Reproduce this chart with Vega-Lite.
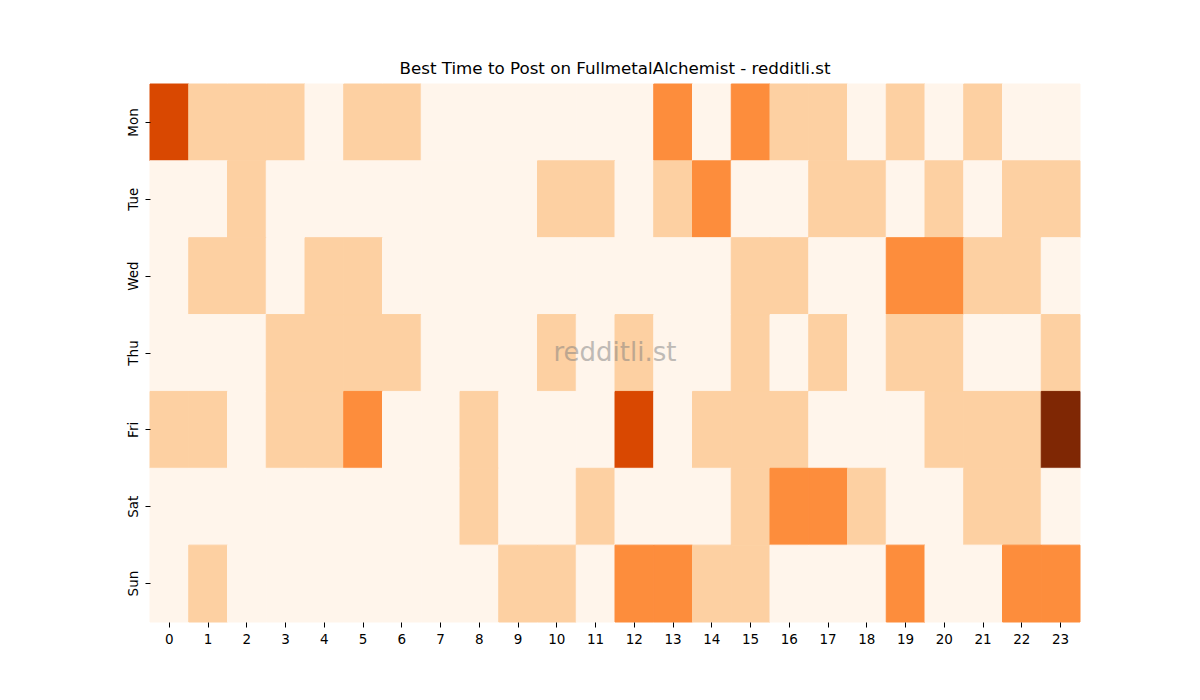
{
  "$schema": "https://vega.github.io/schema/vega-lite/v6.json",
  "width": 930,
  "height": 538,
  "autosize": {"type": "none"},
  "padding": {"left": 150, "top": 84, "right": 120, "bottom": 78},
  "background": "white",
  "config": {"view": {"stroke": null}, "font": "DejaVu Sans"},
  "title": {"text": "Best Time to Post on FullmetalAlchemist - redditli.st", "fontSize": 16.7, "fontWeight": "normal", "font": "DejaVu Sans", "color": "black", "offset": 6},
  "datasets": {
    "grid": [
      {"day":"Mon","hour":0,"v":3},{"day":"Mon","hour":1,"v":1},{"day":"Mon","hour":2,"v":1},{"day":"Mon","hour":3,"v":1},{"day":"Mon","hour":4,"v":0},{"day":"Mon","hour":5,"v":1},{"day":"Mon","hour":6,"v":1},{"day":"Mon","hour":7,"v":0},{"day":"Mon","hour":8,"v":0},{"day":"Mon","hour":9,"v":0},{"day":"Mon","hour":10,"v":0},{"day":"Mon","hour":11,"v":0},{"day":"Mon","hour":12,"v":0},{"day":"Mon","hour":13,"v":2},{"day":"Mon","hour":14,"v":0},{"day":"Mon","hour":15,"v":2},{"day":"Mon","hour":16,"v":1},{"day":"Mon","hour":17,"v":1},{"day":"Mon","hour":18,"v":0},{"day":"Mon","hour":19,"v":1},{"day":"Mon","hour":20,"v":0},{"day":"Mon","hour":21,"v":1},{"day":"Mon","hour":22,"v":0},{"day":"Mon","hour":23,"v":0},
      {"day":"Tue","hour":0,"v":0},{"day":"Tue","hour":1,"v":0},{"day":"Tue","hour":2,"v":1},{"day":"Tue","hour":3,"v":0},{"day":"Tue","hour":4,"v":0},{"day":"Tue","hour":5,"v":0},{"day":"Tue","hour":6,"v":0},{"day":"Tue","hour":7,"v":0},{"day":"Tue","hour":8,"v":0},{"day":"Tue","hour":9,"v":0},{"day":"Tue","hour":10,"v":1},{"day":"Tue","hour":11,"v":1},{"day":"Tue","hour":12,"v":0},{"day":"Tue","hour":13,"v":1},{"day":"Tue","hour":14,"v":2},{"day":"Tue","hour":15,"v":0},{"day":"Tue","hour":16,"v":0},{"day":"Tue","hour":17,"v":1},{"day":"Tue","hour":18,"v":1},{"day":"Tue","hour":19,"v":0},{"day":"Tue","hour":20,"v":1},{"day":"Tue","hour":21,"v":0},{"day":"Tue","hour":22,"v":1},{"day":"Tue","hour":23,"v":1},
      {"day":"Wed","hour":0,"v":0},{"day":"Wed","hour":1,"v":1},{"day":"Wed","hour":2,"v":1},{"day":"Wed","hour":3,"v":0},{"day":"Wed","hour":4,"v":1},{"day":"Wed","hour":5,"v":1},{"day":"Wed","hour":6,"v":0},{"day":"Wed","hour":7,"v":0},{"day":"Wed","hour":8,"v":0},{"day":"Wed","hour":9,"v":0},{"day":"Wed","hour":10,"v":0},{"day":"Wed","hour":11,"v":0},{"day":"Wed","hour":12,"v":0},{"day":"Wed","hour":13,"v":0},{"day":"Wed","hour":14,"v":0},{"day":"Wed","hour":15,"v":1},{"day":"Wed","hour":16,"v":1},{"day":"Wed","hour":17,"v":0},{"day":"Wed","hour":18,"v":0},{"day":"Wed","hour":19,"v":2},{"day":"Wed","hour":20,"v":2},{"day":"Wed","hour":21,"v":1},{"day":"Wed","hour":22,"v":1},{"day":"Wed","hour":23,"v":0},
      {"day":"Thu","hour":0,"v":0},{"day":"Thu","hour":1,"v":0},{"day":"Thu","hour":2,"v":0},{"day":"Thu","hour":3,"v":1},{"day":"Thu","hour":4,"v":1},{"day":"Thu","hour":5,"v":1},{"day":"Thu","hour":6,"v":1},{"day":"Thu","hour":7,"v":0},{"day":"Thu","hour":8,"v":0},{"day":"Thu","hour":9,"v":0},{"day":"Thu","hour":10,"v":1},{"day":"Thu","hour":11,"v":0},{"day":"Thu","hour":12,"v":1},{"day":"Thu","hour":13,"v":0},{"day":"Thu","hour":14,"v":0},{"day":"Thu","hour":15,"v":1},{"day":"Thu","hour":16,"v":0},{"day":"Thu","hour":17,"v":1},{"day":"Thu","hour":18,"v":0},{"day":"Thu","hour":19,"v":1},{"day":"Thu","hour":20,"v":1},{"day":"Thu","hour":21,"v":0},{"day":"Thu","hour":22,"v":0},{"day":"Thu","hour":23,"v":1},
      {"day":"Fri","hour":0,"v":1},{"day":"Fri","hour":1,"v":1},{"day":"Fri","hour":2,"v":0},{"day":"Fri","hour":3,"v":1},{"day":"Fri","hour":4,"v":1},{"day":"Fri","hour":5,"v":2},{"day":"Fri","hour":6,"v":0},{"day":"Fri","hour":7,"v":0},{"day":"Fri","hour":8,"v":1},{"day":"Fri","hour":9,"v":0},{"day":"Fri","hour":10,"v":0},{"day":"Fri","hour":11,"v":0},{"day":"Fri","hour":12,"v":3},{"day":"Fri","hour":13,"v":0},{"day":"Fri","hour":14,"v":1},{"day":"Fri","hour":15,"v":1},{"day":"Fri","hour":16,"v":1},{"day":"Fri","hour":17,"v":0},{"day":"Fri","hour":18,"v":0},{"day":"Fri","hour":19,"v":0},{"day":"Fri","hour":20,"v":1},{"day":"Fri","hour":21,"v":1},{"day":"Fri","hour":22,"v":1},{"day":"Fri","hour":23,"v":4},
      {"day":"Sat","hour":0,"v":0},{"day":"Sat","hour":1,"v":0},{"day":"Sat","hour":2,"v":0},{"day":"Sat","hour":3,"v":0},{"day":"Sat","hour":4,"v":0},{"day":"Sat","hour":5,"v":0},{"day":"Sat","hour":6,"v":0},{"day":"Sat","hour":7,"v":0},{"day":"Sat","hour":8,"v":1},{"day":"Sat","hour":9,"v":0},{"day":"Sat","hour":10,"v":0},{"day":"Sat","hour":11,"v":1},{"day":"Sat","hour":12,"v":0},{"day":"Sat","hour":13,"v":0},{"day":"Sat","hour":14,"v":0},{"day":"Sat","hour":15,"v":1},{"day":"Sat","hour":16,"v":2},{"day":"Sat","hour":17,"v":2},{"day":"Sat","hour":18,"v":1},{"day":"Sat","hour":19,"v":0},{"day":"Sat","hour":20,"v":0},{"day":"Sat","hour":21,"v":1},{"day":"Sat","hour":22,"v":1},{"day":"Sat","hour":23,"v":0},
      {"day":"Sun","hour":0,"v":0},{"day":"Sun","hour":1,"v":1},{"day":"Sun","hour":2,"v":0},{"day":"Sun","hour":3,"v":0},{"day":"Sun","hour":4,"v":0},{"day":"Sun","hour":5,"v":0},{"day":"Sun","hour":6,"v":0},{"day":"Sun","hour":7,"v":0},{"day":"Sun","hour":8,"v":0},{"day":"Sun","hour":9,"v":1},{"day":"Sun","hour":10,"v":1},{"day":"Sun","hour":11,"v":0},{"day":"Sun","hour":12,"v":2},{"day":"Sun","hour":13,"v":2},{"day":"Sun","hour":14,"v":1},{"day":"Sun","hour":15,"v":1},{"day":"Sun","hour":16,"v":0},{"day":"Sun","hour":17,"v":0},{"day":"Sun","hour":18,"v":0},{"day":"Sun","hour":19,"v":2},{"day":"Sun","hour":20,"v":0},{"day":"Sun","hour":21,"v":0},{"day":"Sun","hour":22,"v":2},{"day":"Sun","hour":23,"v":2}
    ],
    "mark": [{"label": "redditli.st"}]
  },
  "layer": [
    {
      "data": {"name": "grid"},
      "mark": {"type": "rect", "strokeWidth": 1},
      "encoding": {
        "x": {"field": "hour", "type": "ordinal", "scale": {"paddingInner": 0, "paddingOuter": 0},
              "axis": {"title": null, "labelAngle": 0, "labelFontSize": 13.5, "labelColor": "black", "labelFont": "DejaVu Sans", "domain": false, "ticks": true, "tickSize": 5, "tickColor": "black", "labelPadding": 5}},
        "y": {"field": "day", "type": "ordinal", "sort": ["Mon","Tue","Wed","Thu","Fri","Sat","Sun"], "scale": {"paddingInner": 0, "paddingOuter": 0},
              "axis": {"title": null, "labelAngle": 270, "labelAlign": "center", "labelBaseline": "bottom", "labelFontSize": 13.5, "labelColor": "black", "labelFont": "DejaVu Sans", "domain": false, "ticks": true, "tickSize": 5, "tickColor": "black", "labelPadding": 5}},
        "color": {"field": "v", "type": "ordinal", "scale": {"domain": [0,1,2,3,4], "range": ["#fff5eb","#fdd0a2","#fd8d3c","#d94801","#7f2704"]}, "legend": null},
        "stroke": {"field": "v", "type": "ordinal", "scale": {"domain": [0,1,2,3,4], "range": ["#fff5eb","#fdd0a2","#fd8d3c","#d94801","#7f2704"]}, "legend": null}
      }
    },
    {
      "data": {"name": "mark"},
      "mark": {"type": "text", "fontSize": 26, "font": "DejaVu Sans", "color": "#808080", "opacity": 0.5, "align": "center", "baseline": "middle"},
      "encoding": {"text": {"field": "label"}}
    }
  ]
}
